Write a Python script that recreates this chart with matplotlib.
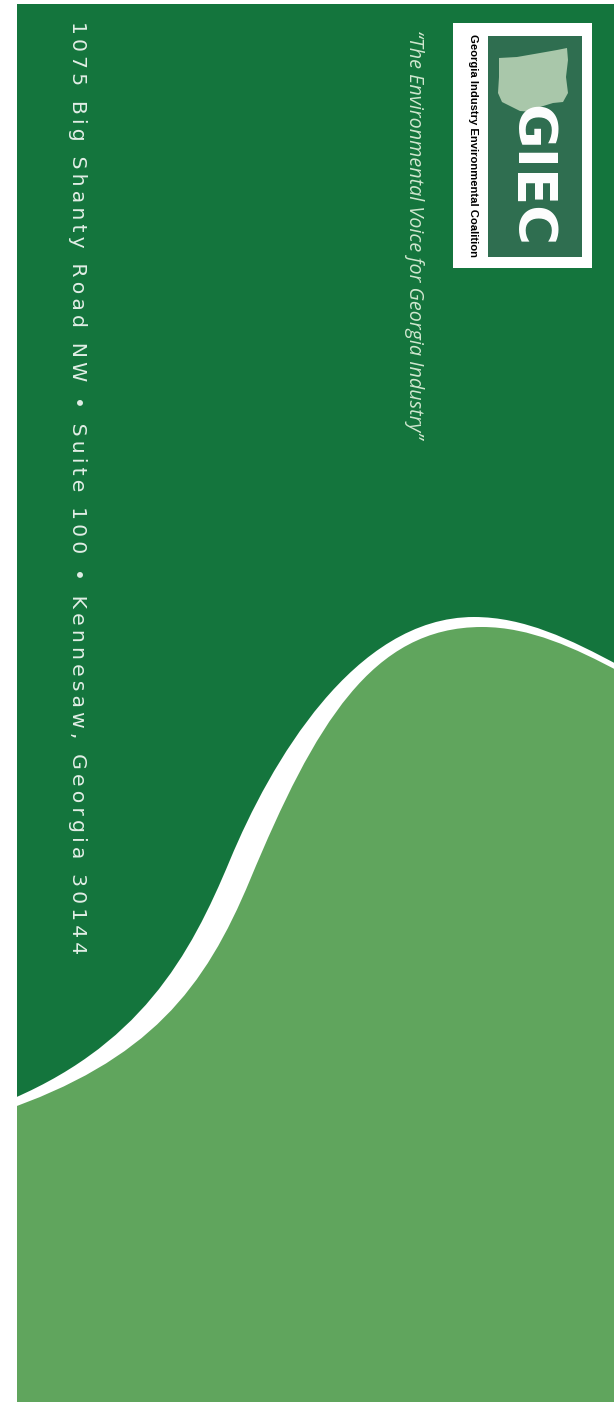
import matplotlib
matplotlib.use("Agg")
import matplotlib.pyplot as plt
from matplotlib.path import Path
from matplotlib.patches import PathPatch, Rectangle, Polygon

# ---- content ----
address = "1075 Big Shanty Road NW • Suite 100 • Kennesaw, Georgia 30144"
tagline = "\u201cThe Environmental Voice for Georgia Industry\u201d"
logo_name = "Georgia Industry Environmental Coalition"
logo_mark = "GIEC"

# ---- shape outlines (pixel coords, y down), cubic bezier pieces ----
# each piece: control 1, control 2, end point
upper_start = (0, 1104)
upper_pieces = [((140, 1048), (190, 956), (230, 860)),
                ((270, 764), (354, 617), (474, 617)),
                ((524, 617), (570, 639), (620, 666))]
lower_start = (0, 1112)
lower_pieces = [((150, 1061), (205, 988), (250, 880)),
                ((315, 724), (372, 627), (482, 627)),
                ((530, 627), (575, 648), (620, 672))]
georgia_outline = [(499, 58), (517, 57), (540, 53), (557, 50), (567, 48),
                   (568, 60), (566, 77), (568, 93), (563, 102), (553, 103),
                   (540, 107), (533, 112), (520, 111), (512, 107), (502, 102),
                   (498, 93), (499, 77)]

DARK = "#14753D"
LIGHT = "#60A55D"
LOGO_BG = "#2F6E50"
SAGE = "#A9C7AA"

W, H = 615, 1402
fig = plt.figure(figsize=(W / 100, H / 100), dpi=100)
ax = fig.add_axes([0, 0, 1, 1])
ax.set_xlim(0, W)
ax.set_ylim(H, 0)
ax.axis("off")


def bezier_area(start, pieces, tail):
    verts = [start]
    codes = [Path.MOVETO]
    for c1, c2, end in pieces:
        verts += [c1, c2, end]
        codes += [Path.CURVE4] * 3
    for v in tail:
        verts.append(v)
        codes.append(Path.LINETO)
    verts.append(start)
    codes.append(Path.CLOSEPOLY)
    return Path(verts, codes)


panel = Rectangle((17, 4), 597, H, facecolor=DARK, edgecolor="none", zorder=1)
ax.add_patch(panel)

bottom = [(640, 1450), (-20, 1450)]
white = PathPatch(bezier_area(upper_start, upper_pieces, bottom),
                  facecolor="white", edgecolor="none", zorder=2)
light = PathPatch(bezier_area(lower_start, lower_pieces, bottom),
                  facecolor=LIGHT, edgecolor="none", zorder=3)
for p in (white, light):
    ax.add_patch(p)
    p.set_clip_path(panel)

# logo
ax.add_patch(Rectangle((453, 23), 139, 245, facecolor="white", edgecolor="none", zorder=4))
ax.add_patch(Rectangle((488, 36), 94, 221, facecolor=LOGO_BG, edgecolor="none", zorder=5))
ax.add_patch(Polygon(georgia_outline, closed=True, facecolor=SAGE, edgecolor="none", zorder=6))

renderer = fig.canvas.get_renderer()


def fit_text(x, y, s, length, **kw):
    t = ax.text(x, y, s, rotation=-90, ha="center", va="center", fontsize=10, **kw)
    h = t.get_window_extent(renderer=renderer).height
    t.set_fontsize(10 * length / h)
    return t


fit_text(530, 176, logo_mark, 142, color="white", fontweight="bold",
         family="DejaVu Sans", zorder=7)
fit_text(473, 145, logo_name, 222, color="black", fontweight="bold",
         family=["Liberation Sans Narrow", "Liberation Sans"], zorder=7)

fit_text(414, 234, tagline, 408, color="#CFE7CF", style="italic",
         family=["Open Sans", "DejaVu Sans"], zorder=7)

spaced = "\u2009".join(address)
fit_text(77, 488, spaced, 928, color="#E2EEE6",
         family=["DejaVu Sans"], zorder=7)

fig.savefig("out.png", dpi=100, facecolor="white")
